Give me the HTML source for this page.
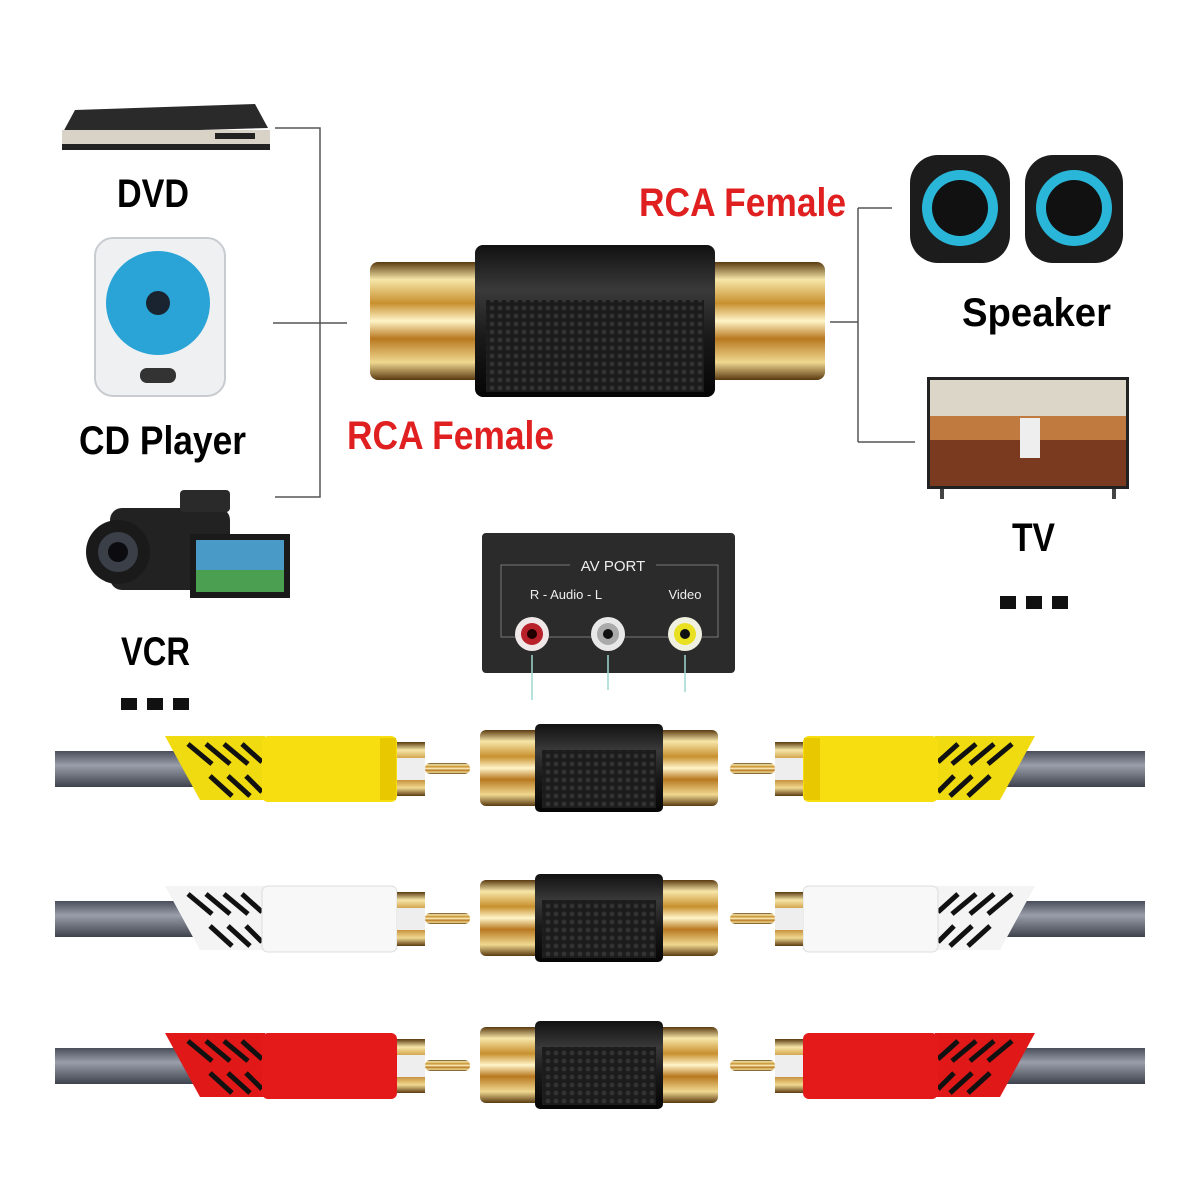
<!DOCTYPE html>
<html><head><meta charset="utf-8"><style>
html,body{margin:0;padding:0;background:#fff;}
svg{display:block;}
.lb{font-family:"Liberation Sans Narrow","Liberation Sans",sans-serif;font-weight:bold;}
</style></head><body>
<svg width="1200" height="1200" viewBox="0 0 1200 1200" xmlns="http://www.w3.org/2000/svg">
<defs>
<linearGradient id="gold" x1="0" y1="0" x2="0" y2="1">
<stop offset="0" stop-color="#5a3a10"/><stop offset="0.15" stop-color="#f6e6a8"/><stop offset="0.35" stop-color="#c8902e"/><stop offset="0.5" stop-color="#fff4c8"/><stop offset="0.65" stop-color="#b87820"/><stop offset="0.85" stop-color="#f0d890"/><stop offset="1" stop-color="#5a3a10"/>
</linearGradient>
<linearGradient id="blk" x1="0" y1="0" x2="0" y2="1">
<stop offset="0" stop-color="#111"/><stop offset="0.3" stop-color="#3a3a3a"/><stop offset="0.6" stop-color="#1a1a1a"/><stop offset="1" stop-color="#050505"/>
</linearGradient>
<linearGradient id="cab" x1="0" y1="0" x2="0" y2="1">
<stop offset="0" stop-color="#4a4e5a"/><stop offset="0.4" stop-color="#9a9eaa"/><stop offset="1" stop-color="#3e424c"/>
</linearGradient>
<pattern id="dots" width="8" height="8" patternUnits="userSpaceOnUse"><rect width="8" height="8" fill="#1c1c1c"/><circle cx="4" cy="4" r="2.4" fill="#333"/></pattern>
<g id="coup">
<rect x="0" y="-38" width="62" height="76" rx="6" fill="url(#gold)"/>
<rect x="176" y="-38" width="62" height="76" rx="6" fill="url(#gold)"/>
<rect x="55" y="-44" width="128" height="88" rx="5" fill="url(#blk)"/>
<rect x="62" y="-18" width="114" height="58" fill="url(#dots)"/>
</g>
</defs>

<polygon points="75,110 255,104 268,128 62,134" fill="#2a2a2a"/>
<rect x="62" y="130" width="208" height="16" fill="#d9d2c6"/>
<rect x="62" y="144" width="208" height="6" fill="#222"/>
<rect x="215" y="133" width="40" height="6" fill="#222"/>
<text x="117" y="207" class="lb" font-size="40" textLength="72" lengthAdjust="spacingAndGlyphs">DVD</text>

<rect x="95" y="238" width="130" height="158" rx="18" fill="#eef0f2" stroke="#c8ccd0" stroke-width="2"/>
<circle cx="158" cy="303" r="52" fill="#2aa4d6"/>
<circle cx="158" cy="303" r="12" fill="#1a2430"/>
<rect x="140" y="368" width="36" height="15" rx="7" fill="#333"/>
<text x="79" y="454" class="lb" font-size="40" textLength="167" lengthAdjust="spacingAndGlyphs">CD Player</text>

<rect x="110" y="508" width="120" height="82" rx="12" fill="#222"/>
<circle cx="118" cy="552" r="32" fill="#1a1a1a"/>
<circle cx="118" cy="552" r="20" fill="#3b3f48"/>
<circle cx="118" cy="552" r="10" fill="#0c0c10"/>
<rect x="180" y="490" width="50" height="22" rx="4" fill="#2a2a2a"/>
<rect x="190" y="534" width="100" height="64" fill="#1a1a1a"/>
<rect x="196" y="540" width="88" height="52" fill="#4a9ac8"/>
<rect x="196" y="570" width="88" height="22" fill="#4aa050"/>
<text x="121" y="665" class="lb" font-size="40" textLength="69" lengthAdjust="spacingAndGlyphs">VCR</text>
<g fill="#111"><rect x="121" y="698" width="16" height="12"/><rect x="147" y="698" width="16" height="12"/><rect x="173" y="698" width="16" height="12"/>
<rect x="1000" y="596" width="16" height="13"/><rect x="1026" y="596" width="16" height="13"/><rect x="1052" y="596" width="16" height="13"/></g>

<g stroke="#555" stroke-width="1.5" fill="none">
<path d="M275 128 H320 V497 H275"/>
<path d="M273 323 H347"/>
<path d="M830 322 H858 M858 208 V442 M858 208 H892 M858 442 H915"/>
</g>

<rect x="370" y="262" width="115" height="118" rx="8" fill="url(#gold)"/>
<rect x="705" y="262" width="120" height="118" rx="8" fill="url(#gold)"/>
<rect x="475" y="245" width="240" height="152" rx="8" fill="url(#blk)"/>
<rect x="486" y="300" width="218" height="92" fill="url(#dots)"/>
<text x="347" y="449" class="lb" font-size="40" fill="#e02020" textLength="207" lengthAdjust="spacingAndGlyphs">RCA Female</text>
<text x="639" y="216" class="lb" font-size="40" fill="#e02020" textLength="207" lengthAdjust="spacingAndGlyphs">RCA Female</text>

<rect x="910" y="155" width="100" height="108" rx="28" fill="#1c1c1c"/>
<circle cx="960" cy="208" r="38" fill="#29b6d8"/>
<circle cx="960" cy="208" r="28" fill="#111"/>
<rect x="1025" y="155" width="98" height="108" rx="28" fill="#1c1c1c"/>
<circle cx="1074" cy="208" r="38" fill="#29b6d8"/>
<circle cx="1074" cy="208" r="28" fill="#111"/>
<text x="962" y="326" class="lb" font-size="40" textLength="149" lengthAdjust="spacingAndGlyphs">Speaker</text>

<rect x="927" y="377" width="202" height="112" fill="#222"/>
<rect x="930" y="380" width="196" height="106" fill="#c07a40"/>
<rect x="930" y="380" width="196" height="36" fill="#dcd6c8"/>
<rect x="930" y="440" width="196" height="46" fill="#7a3a20"/>
<rect x="1020" y="418" width="20" height="40" fill="#eee"/>
<rect x="940" y="489" width="4" height="10" fill="#444"/><rect x="1112" y="489" width="4" height="10" fill="#444"/>
<text x="1012" y="551" class="lb" font-size="40" textLength="43" lengthAdjust="spacingAndGlyphs">TV</text>

<rect x="482" y="533" width="253" height="140" rx="4" fill="#2b2b2b"/>
<path d="M570 565 H501 V637 H718 V565 H656" stroke="#777" fill="none" stroke-width="1"/>
<text x="613" y="571" font-family="Liberation Sans,sans-serif" font-size="15" fill="#eee" text-anchor="middle">AV PORT</text>
<text x="566" y="599" font-family="Liberation Sans,sans-serif" font-size="13" fill="#eee" text-anchor="middle">R - Audio - L</text>
<text x="685" y="599" font-family="Liberation Sans,sans-serif" font-size="13" fill="#eee" text-anchor="middle">Video</text>
<circle cx="532" cy="634" r="17" fill="#f0e8e8"/><circle cx="532" cy="634" r="11" fill="#b8202a"/><circle cx="532" cy="634" r="5" fill="#200"/>
<circle cx="608" cy="634" r="17" fill="#e8e8e8"/><circle cx="608" cy="634" r="11" fill="#aaa"/><circle cx="608" cy="634" r="5" fill="#111"/>
<circle cx="685" cy="634" r="17" fill="#f0f0e0"/><circle cx="685" cy="634" r="11" fill="#e8e020"/><circle cx="685" cy="634" r="5" fill="#111"/>
<g stroke="#9fd8d0" stroke-width="1.5"><path d="M532 655 V700 M608 655 V690 M685 655 V692"/></g>

<g id="row1">
<rect x="55" y="751" width="150" height="36" fill="url(#cab)"/>
<polygon points="165,736 265,736 265,800 200,800" fill="#f0da10"/>
<g stroke="#111" stroke-width="5"><path d="M188 744 L212 764 M206 744 L230 764 M224 744 L248 764 M242 744 L262 762 M210 776 L232 796 M228 776 L250 796 M246 776 L262 792"/></g>
<rect x="262" y="736" width="135" height="66" rx="6" fill="#f6de10"/>
<rect x="380" y="738" width="16" height="62" fill="#e8c800"/>
<rect x="397" y="742" width="28" height="54" fill="url(#gold)"/>
<rect x="397" y="758" width="28" height="22" fill="#eee"/>
<rect x="425" y="763" width="45" height="11" rx="5" fill="url(#gold)"/>
</g>
<g transform="translate(1200,0) scale(-1,1)"><use href="#row1"/></g>
<use href="#coup" transform="translate(480,768)"/>

<g id="row2" transform="translate(0,150)">
<rect x="55" y="751" width="150" height="36" fill="url(#cab)"/>
<polygon points="165,736 265,736 265,800 200,800" fill="#f4f4f4"/>
<g stroke="#111" stroke-width="5"><path d="M188 744 L212 764 M206 744 L230 764 M224 744 L248 764 M242 744 L262 762 M210 776 L232 796 M228 776 L250 796 M246 776 L262 792"/></g>
<rect x="262" y="736" width="135" height="66" rx="6" fill="#f8f8f8" stroke="#ddd"/>
<rect x="397" y="742" width="28" height="54" fill="url(#gold)"/>
<rect x="397" y="758" width="28" height="22" fill="#eee"/>
<rect x="425" y="763" width="45" height="11" rx="5" fill="url(#gold)"/>
</g>
<g transform="translate(1200,0) scale(-1,1)"><use href="#row2"/></g>
<use href="#coup" transform="translate(480,918)"/>

<g id="row3" transform="translate(0,297)">
<rect x="55" y="751" width="150" height="36" fill="url(#cab)"/>
<polygon points="165,736 265,736 265,800 200,800" fill="#e01818"/>
<g stroke="#111" stroke-width="5"><path d="M188 744 L212 764 M206 744 L230 764 M224 744 L248 764 M242 744 L262 762 M210 776 L232 796 M228 776 L250 796 M246 776 L262 792"/></g>
<rect x="262" y="736" width="135" height="66" rx="6" fill="#e41a1a"/>
<rect x="397" y="742" width="28" height="54" fill="url(#gold)"/>
<rect x="397" y="758" width="28" height="22" fill="#eee"/>
<rect x="425" y="763" width="45" height="11" rx="5" fill="url(#gold)"/>
</g>
<g transform="translate(1200,0) scale(-1,1)"><use href="#row3"/></g>
<use href="#coup" transform="translate(480,1065)"/>
</svg>
</body></html>
